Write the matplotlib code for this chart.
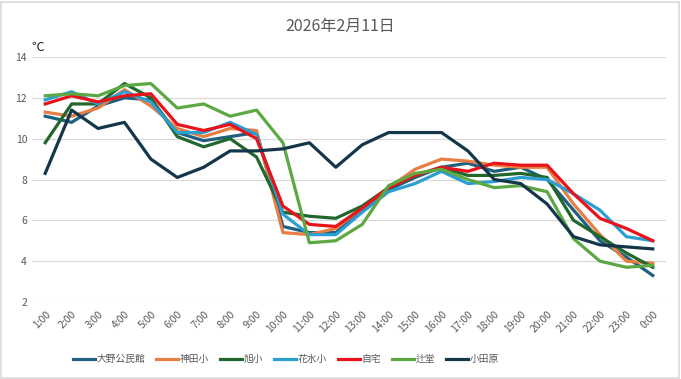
import matplotlib
matplotlib.use("Agg")
from matplotlib import pyplot as plt
from matplotlib.patches import Rectangle

plt.rcParams['font.family'] = ['Noto Sans CJK JP', 'DejaVu Sans']

# hours on the x axis
hours = ['%d:00' % h for h in range(1, 24)] + ['0:00']

# temperatures per station
oono = [11.1, 10.8, 11.6, 12.0, 11.9, 10.3, 9.9, 10.1, 10.3, 5.7, 5.4, 5.4,
        6.5, 7.5, 8.1, 8.6, 8.8, 8.4, 8.6, 8.0, 6.5, 5.0, 4.2, 3.3]
kanda = [11.3, 11.1, 11.5, 12.4, 11.6, 10.5, 10.1, 10.5, 10.4, 5.4, 5.3, 5.6,
         6.6, 7.6, 8.5, 9.0, 8.9, 8.7, 8.6, 8.6, 6.8, 5.3, 4.0, 3.9]
asahi = [9.8, 11.7, 11.7, 12.7, 12.0, 10.1, 9.6, 10.0, 9.1, 6.4, 6.2, 6.1,
         6.7, 7.6, 8.2, 8.6, 8.2, 8.2, 8.3, 8.1, 6.0, 5.2, 4.4, 3.7]
hanamizu = [11.9, 12.3, 11.7, 12.3, 11.8, 10.3, 10.3, 10.8, 10.2, 6.3, 5.3, 5.3,
            6.4, 7.4, 7.8, 8.4, 7.8, 7.9, 8.1, 8.0, 7.3, 6.5, 5.2, 5.0]
jitaku = [11.7, 12.1, 11.8, 12.1, 12.2, 10.7, 10.4, 10.7, 10.0, 6.7, 5.8, 5.7,
          6.6, 7.6, 8.2, 8.6, 8.4, 8.8, 8.7, 8.7, 7.3, 6.1, 5.6, 5.0]
tsujido = [12.1, 12.2, 12.1, 12.6, 12.7, 11.5, 11.7, 11.1, 11.4, 9.8, 4.9, 5.0,
           5.8, 7.7, 8.3, 8.5, 8.0, 7.6, 7.7, 7.4, 5.1, 4.0, 3.7, 3.8]
odawara = [8.3, 11.4, 10.5, 10.8, 9.0, 8.1, 8.6, 9.4, 9.4, 9.5, 9.8, 8.6,
           9.7, 10.3, 10.3, 10.3, 9.4, 8.0, 7.8, 6.8, 5.2, 4.8, 4.7, 4.6]

names = ['大野公民館', '神田小', '旭小', '花水小', '自宅', '辻堂', '小田原']
series = [oono, kanda, asahi, hanamizu, jitaku, tsujido, odawara]
colors = ['#1F5F7F', '#E97E45', '#21672D', '#2B9ED2', '#E8131B', '#5CA843', '#14364A']

fig = plt.figure(figsize=(6.81, 3.79), dpi=100)
ax = fig.add_axes([32 / 681, 1 - 302 / 379, 634 / 681, 245 / 379])

x = list(range(len(hours)))
for name, vals, c in zip(names, series, colors):
    ax.plot(x, vals, color=c, lw=2.3, label=name, solid_joinstyle='round')

ax.set_xlim(-0.5, len(hours) - 0.5)
ax.set_ylim(2, 14)
ax.set_yticks(range(2, 15, 2))
ax.set_xticks(x)
ax.set_xticklabels(hours, rotation=45, ha='right', rotation_mode='anchor')
ax.tick_params(length=0, colors='#595959', labelsize=7.5)
ax.tick_params(axis='x', pad=5)
ax.grid(axis='y', color='#D9D9D9', lw=0.9)
ax.set_axisbelow(True)
for s in ax.spines.values():
    s.set_visible(False)

fig.text(0.5, 1 - 26 / 379, '2026年2月11日', ha='center', va='center',
         fontsize=11.5, color='#595959')
fig.text(31 / 681, 1 - 47 / 379, '℃', ha='left', va='center',
         fontsize=9, color='#222222')

fig.legend(loc='center left', bbox_to_anchor=(64 / 681, 1 - 359 / 379), ncol=7,
           frameon=False, fontsize=7, handlelength=2.3, handletextpad=0.15,
           columnspacing=1.1, labelcolor='#595959')

fig.patches.append(Rectangle((0.002, 0.003), 0.995, 0.993, transform=fig.transFigure,
                             fill=False, edgecolor='#D9D9D9', lw=1.2))

fig.savefig('out.png', dpi=100)
